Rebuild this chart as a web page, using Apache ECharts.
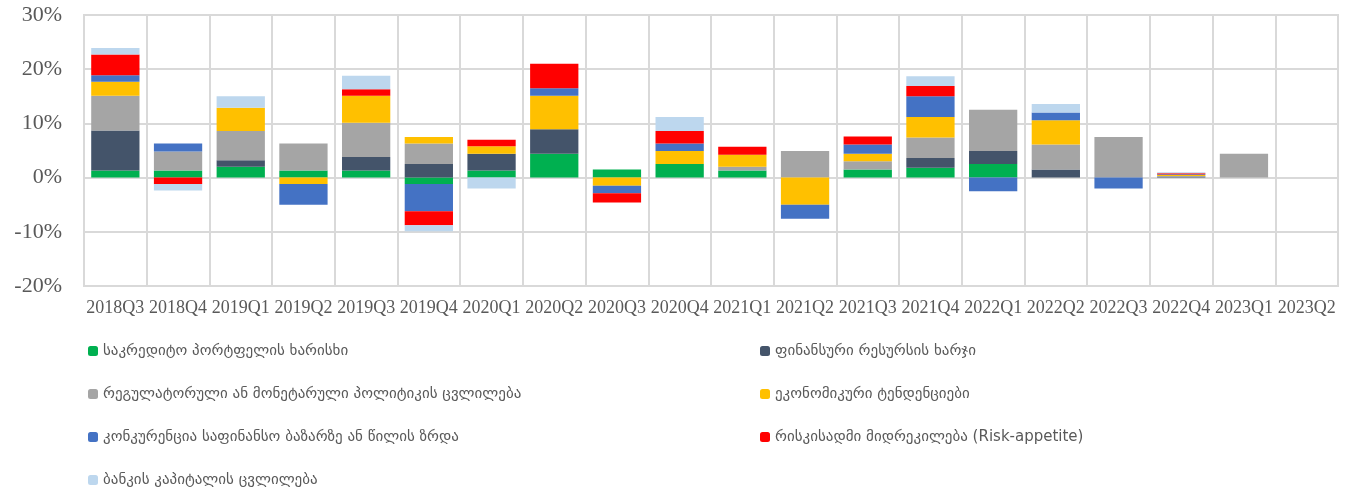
<!DOCTYPE html>
<html>
<head>
<meta charset="utf-8">
<script src="https://cdn.jsdelivr.net/npm/echarts@6/dist/echarts.min.js"></script>
<style>
  html, body { margin: 0; padding: 0; background: #fff; }
  #main { width: 1353px; height: 494px; }
</style>
</head>
<body>
<div id="main"></div>
<script>
// quarters
var categories = ['2018Q3', '2018Q4', '2019Q1', '2019Q2', '2019Q3', '2019Q4', '2020Q1', '2020Q2', '2020Q3', '2020Q4',
  '2021Q1', '2021Q2', '2021Q3', '2021Q4', '2022Q1', '2022Q2', '2022Q3', '2022Q4', '2023Q1', '2023Q2'];

var yTicks = [-20, -10, 0, 10, 20, 30];

// series values, %
var creditQuality = [1.3, 1.3, 2.0, 1.3, 1.3, -1.2, 1.3, 4.4, 1.5, 2.5, 1.3, 0, 1.5, 1.8, 2.5, 0, 0, 0, 0, 0];
var fundingCost   = [7.4, 0, 1.2, 0, 2.5, 2.5, 3.1, 4.5, 0, 0, 0, 0, 0, 1.8, 2.4, 1.5, 0, 0.2, 0, 0];
var regulatory    = [6.4, 3.5, 5.4, 5.0, 6.3, 3.8, 0, 0, 0, 0, 0.7, 4.9, 1.5, 3.8, 7.6, 4.6, 7.5, 0.1, 4.4, 0];
var economic      = [2.6, 0, 4.3, -1.2, 5.0, 1.2, 1.4, 6.2, -1.5, 2.4, 2.2, -5.0, 1.4, 3.8, 0, 4.5, 0, 0.2, 0, 0];
var competition   = [1.2, 1.5, 0, -3.8, 0, -5.0, 0, 1.4, -1.4, 1.4, 0, -2.6, 1.7, 3.8, -2.5, 1.4, -2.0, 0.1, 0, 0];
var riskAppetite  = [3.8, -1.2, 0, 0, 1.2, -2.6, 1.2, 4.5, -1.7, 2.3, 1.5, 0, 1.5, 1.9, 0, 0, 0, 0.2, 0, 0];
var bankCapital   = [1.2, -1.2, 2.1, 0, 2.5, -1.1, -2.0, 0, 0, 2.6, 0, 0, 0, 1.8, 0, 1.6, 0, 0.2, 0, 0];

var names = [
  'საკრედიტო პორტფელის ხარისხი',
  'ფინანსური რესურსის ხარჯი',
  'რეგულატორული ან მონეტარული პოლიტიკის ცვლილება',
  'ეკონომიკური ტენდენციები',
  'კონკურენცია საფინანსო ბაზარზე ან წილის ზრდა',
  'რისკისადმი მიდრეკილება (Risk-appetite)',
  'ბანკის კაპიტალის ცვლილება'
];
var values = [creditQuality, fundingCost, regulatory, economic, competition, riskAppetite, bankCapital];
var colors = ['#00B050', '#44546A', '#A5A5A5', '#FFC000', '#4472C4', '#FF0000', '#BDD7EE'];

var textColor = '#595959';
var gridColor = '#D9D9D9';
var latinFont = '"Liberation Serif", "DejaVu Serif", serif';
var geoFont = '"DejaVu Sans", "DejaVu Serif", sans-serif';

var myChart = echarts.init(document.getElementById('main'));

var series = names.map(function (n, i) {
  return {
    name: n,
    type: 'bar',
    stack: 'total',
    barWidth: '77%',
    itemStyle: { color: colors[i] },
    data: values[i].map(function (v) { return v === 0 ? null : v; })
  };
});

var legendText = { color: textColor, fontFamily: geoFont, fontSize: 15, lineHeight: 20 };

var option = {
  animation: false,
  grid: {
    left: 84, right: 15, top: 15, bottom: 208,
    show: true, borderColor: gridColor, borderWidth: 2
  },
  legend: [
    {
      orient: 'vertical', left: 88, top: 341, padding: 0, height: 153,
      itemWidth: 10, itemHeight: 10, itemGap: 23, itemStyle: { borderWidth: 0 },
      textStyle: legendText,
      data: [names[0], names[2], names[4], names[6]]
    },
    {
      orient: 'vertical', left: 760, top: 341, padding: 0, height: 153,
      itemWidth: 10, itemHeight: 10, itemGap: 23, itemStyle: { borderWidth: 0 },
      textStyle: legendText,
      data: [names[1], names[3], names[5]]
    }
  ],
  xAxis: {
    type: 'category',
    data: categories,
    axisLine: { show: false },
    axisTick: { show: false },
    axisLabel: { color: textColor, fontFamily: latinFont, fontSize: 18, margin: 13, interval: 0 },
    splitLine: { show: true, lineStyle: { color: gridColor, width: 2 } }
  },
  yAxis: {
    type: 'value',
    min: yTicks[0], max: yTicks[yTicks.length - 1], interval: 10,
    axisLine: { show: false },
    axisTick: { show: false },
    axisLabel: { color: textColor, fontFamily: latinFont, fontSize: 22, margin: 22, formatter: '{value}%' },
    splitLine: { lineStyle: { color: gridColor, width: 2 } }
  },
  series: series
};

myChart.setOption(option);
</script>
</body>
</html>
